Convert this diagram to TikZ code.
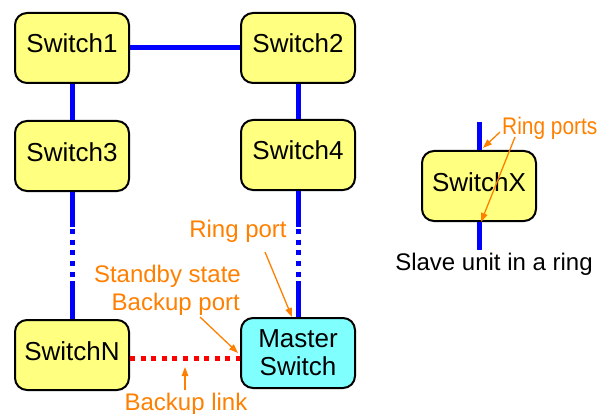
\documentclass[tikz,border=0pt]{standalone}
\usepackage{fontspec}
\setmainfont{Liberation Sans}
\usetikzlibrary{arrows.meta}
\definecolor{swyellow}{RGB}{255,255,128}
\definecolor{swcyan}{RGB}{128,255,255}
\definecolor{annot}{RGB}{255,128,0}
\begin{document}
\begin{tikzpicture}[x=1pt,y=-1pt,
  switchbox/.style={draw=black, line width=2pt, rounded corners=12pt, fill=swyellow,
    minimum width=114pt, minimum height=70pt, inner sep=0pt,
    font=\fontsize{26}{28}\selectfont, text height=19pt, text depth=9pt},
  masterbox/.style={switchbox, fill=swcyan, text height=, text depth=, align=center,
    font=\fontsize{26}{28}\selectfont},
  ring/.style={draw=blue, line width=5pt},
  ringdots/.style={ring, dash pattern=on 5pt off 5.7pt},
  backup/.style={draw=red, line width=5pt, dash pattern=on 5pt off 5.6pt},
  annotext/.style={text=annot, font=\fontsize{24}{28}\selectfont, inner sep=0pt},
  plaintext/.style={text=black, font=\fontsize{24}{28}\selectfont, inner sep=0pt},
  pointer/.style={draw=annot, line width=1.3pt, -{Triangle[length=9pt,width=6.5pt]}}
]
\useasboundingbox (0,0) rectangle (599,414);

% nodes
\node[switchbox] (s1) at (72,48) {Switch1};
\node[switchbox] (s2) at (298,48) {Switch2};
\node[switchbox] (s3) at (72,156) {Switch3};
\node[switchbox] (s4) at (298,155) {Switch4};
\node[switchbox] (sN) at (72,355) {SwitchN};
\node[masterbox] (m) at (298,353) {Master\\Switch};
\node[switchbox] (sx) at (479,186) {SwitchX};

% ring connections
\draw[ring] (s1.east) -- (s2.west);
\draw[ring] (s1.south) -- (s3.north);
\draw[ring] (s2.south) -- (s4.north);

% left column: solid, dotted, solid
\coordinate (l1) at (72,227);
\coordinate (l2) at (72,229);
\coordinate (l3) at (72,281);
\draw[ring] (s3.south) -- (l1);
\draw[ringdots] (l2) -- (l3);
\draw[ring] (l3) -- (sN.north);

% right column
\coordinate (r1) at (298,227);
\coordinate (r2) at (298,229);
\coordinate (r3) at (298,281);
\draw[ring] (s4.south) -- (r1);
\draw[ringdots] (r2) -- (r3);
\draw[ring] (r3) -- (m.north);

% backup link
\coordinate (bl) at (130,358);
\coordinate (br) at (240,358);
\draw[backup] (bl) -- (br);

% SwitchX ports
\coordinate (xt) at (479,122);
\coordinate (xb) at (479,250);
\draw[ring] (xt) -- (sx.north);
\draw[ring] (sx.south) -- (xb);

% annotations
\node[annotext, anchor=base west] (rps) at (502,135) {\scalebox{0.87}[1]{Ring ports}};
\node[plaintext, anchor=base] (slave) at (494,270) {Slave unit in a ring};
\node[annotext, anchor=base] (rp) at (238,237) {Ring port};
\node[annotext, anchor=base east] (ss) at (241,282) {Standby state};
\node[annotext, anchor=base east] (bp) at (240,310) {Backup port};
\node[annotext, anchor=base] (blk) at (186,410) {Backup link};

\coordinate (a1s) at (500,132);
\coordinate (a1e) at (483,148);
\coordinate (a2s) at (515,137);
\coordinate (a2e) at (481,222);
\coordinate (a3s) at (265,252);
\coordinate (a3e) at (292,317);
\coordinate (a4s) at (200,317);
\coordinate (a4e) at (238,353);
\coordinate (a5s) at (185,390);
\coordinate (a5e) at (185,367);
\draw[pointer] (a1s) -- (a1e);
\draw[pointer] (a2s) -- (a2e);
\draw[pointer] (a3s) -- (a3e);
\draw[pointer] (a4s) -- (a4e);
\draw[pointer] (a5s) -- (a5e);
\end{tikzpicture}
\end{document}
